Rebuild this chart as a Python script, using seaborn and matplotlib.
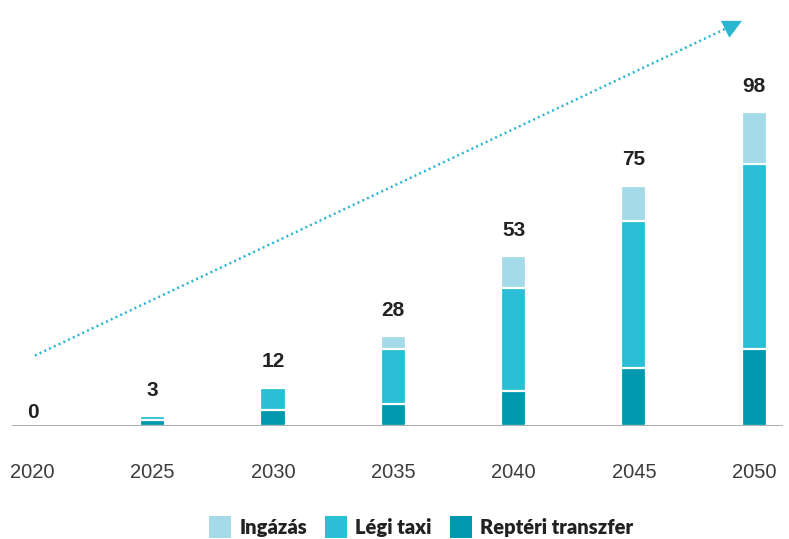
import matplotlib
matplotlib.use("Agg")
import matplotlib.pyplot as plt
import seaborn as sns
import numpy as np
import pandas as pd
from matplotlib.patches import Patch

# Values
years = ["2020", "2025", "2030", "2035", "2040", "2045", "2050"]
repteri = [0, 2, 5, 7, 11, 18, 24]
legi_taxi = [0, 1, 7, 17, 32, 46, 58]
ingazas = [0, 0, 0, 4, 10, 11, 16]
totals = [0, 3, 12, 28, 53, 75, 98]

series_names = ["Ingázás", "Légi taxi", "Reptéri transzfer"]
colors = ["#a5dbe9", "#2bbfd6", "#0098ae"]

sns.set_theme(style="white")
plt.rcParams['font.family'] = ['Liberation Sans', 'DejaVu Sans']

df = pd.DataFrame({"year": years, "repteri": repteri, "legi": legi_taxi, "ingazas": ingazas})
df["c1"] = df["repteri"]
df["c2"] = df["repteri"] + df["legi"]
df["c3"] = df["c2"] + df["ingazas"]

fig = plt.figure(figsize=(7.89, 5.39), dpi=100)
ax = fig.add_axes([12 / 789, 113 / 539, 771 / 789, 416 / 539])

# stacked bars: draw cumulative heights back to front
for col, color in zip(["c3", "c2", "c1"], colors):
    sns.barplot(data=df, x="year", y=col, color=color, width=0.21, errorbar=None,
                edgecolor="white", linewidth=1.6, saturation=1, ax=ax)

ax.set_xlim(-0.17, 6.24)
ax.set_ylim(0, 130)
ax.axhline(0, color="#a6a6a6", lw=2, zorder=5)

for i, t in enumerate(totals):
    off = 3 if t == 0 else 12
    ax.annotate(str(t), xy=(i, t), xytext=(0, off), textcoords="offset points",
                ha="center", va="bottom", fontsize=15, fontweight="bold", color="#222222")

# dotted growth arrow
x0, y0, x1, y1 = 0.02, 22, 5.92, 127
ax.plot([x0, x1 - 0.12], [y0, y1 - 2.2], ls=(0, (0.8, 1.3)), color="#2ab6d1", lw=1.8, zorder=6)
ax.annotate("", xy=(x1, y1), xytext=(x1 - 0.16, y1 - 3.0),
            arrowprops=dict(arrowstyle="-|>", color="#2ab6d1", lw=0, mutation_scale=34), zorder=6)

ax.set_xlabel("")
ax.set_ylabel("")
ax.set_yticks([])
sns.despine(ax=ax, left=True, bottom=True)
ax.tick_params(axis="x", length=0, pad=27, labelsize=14.5, labelcolor="#3c3c3c")

handles = [Patch(facecolor=c, edgecolor="none") for c in colors]
leg = fig.legend(handles, series_names, loc="center", bbox_to_anchor=(421 / 789, 12 / 539),
                 ncol=3, frameon=False, handlelength=1.1, handleheight=1.25,
                 handletextpad=0.4, columnspacing=0.9,
                 prop={"family": ["Lato", "DejaVu Sans"], "weight": "heavy", "size": 14.5})
for txt in leg.get_texts():
    txt.set_color("#222222")

fig.savefig("out.png", dpi=100)
